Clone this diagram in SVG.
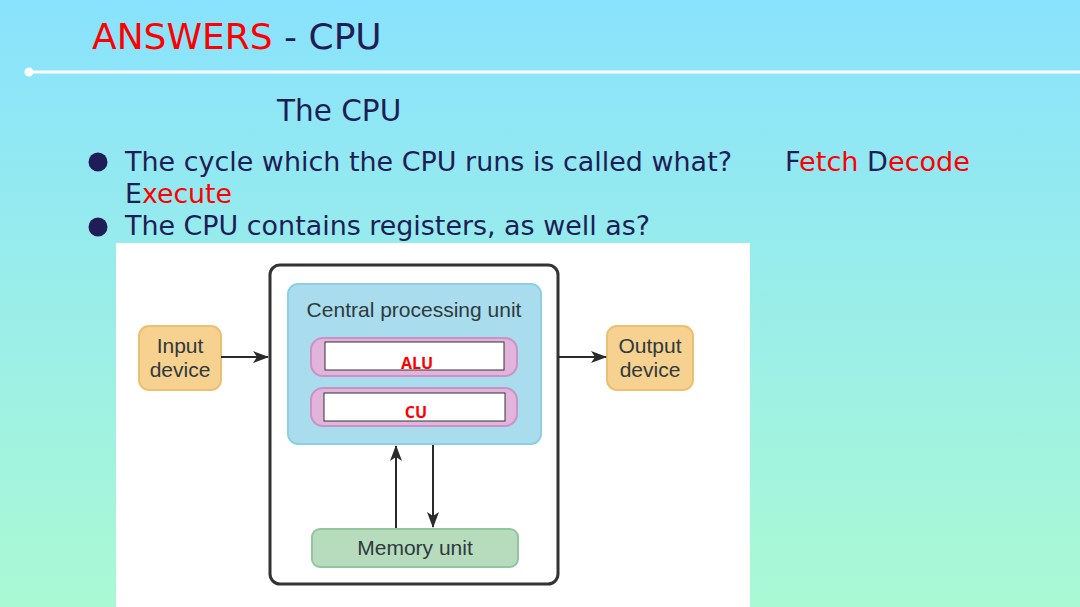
<svg xmlns="http://www.w3.org/2000/svg" width="1080" height="607" viewBox="0 0 1080 607">
<defs>
<linearGradient id="bg" x1="0" y1="0" x2="0" y2="1">
<stop offset="0" stop-color="#89e2fd"/>
<stop offset="1" stop-color="#aaf9d4"/>
</linearGradient>
<marker id="ah" viewBox="0 0 16 12" refX="15" refY="6" markerWidth="16" markerHeight="12" markerUnits="userSpaceOnUse" orient="auto">
<path d="M0,0 L16,6 L0,12 L4,6 Z" fill="#2a2a2a"/>
</marker>
</defs>
<style>
.slide{font-family:"DejaVu Sans",sans-serif;fill:#1f1d55}
.red{fill:#ff0000}
.lbl{font-family:"Liberation Sans",Arial,sans-serif;font-size:21px;fill:#2e3a3e;text-anchor:middle}
.ans{font-family:"Open Sans","Noto Sans",sans-serif;font-weight:bold;font-size:16px;fill:#ff0000;text-anchor:middle}
.conn{stroke:#2a2a2a;stroke-width:2;fill:none;marker-end:url(#ah)}
</style>
<rect width="1080" height="607" fill="url(#bg)"/>
<text class="slide" x="92" y="49" font-size="36"><tspan class="red">ANSWERS</tspan> - CPU</text>
<line x1="28" y1="72" x2="1080" y2="72" stroke="#fff" stroke-width="3"/>
<circle cx="29" cy="72" r="4.5" fill="#fff"/>
<text class="slide" x="277" y="121" font-size="29.5">The CPU</text>
<circle cx="98" cy="162" r="9.5" fill="#1f1d55"/>
<circle cx="98" cy="227" r="9.5" fill="#1f1d55"/>
<text class="slide" x="125" y="171" font-size="26" textLength="607" lengthAdjust="spacingAndGlyphs">The cycle which the CPU runs is called what?</text>
<text class="slide" x="785" y="171" font-size="26" textLength="185" lengthAdjust="spacingAndGlyphs">F<tspan class="red">etch</tspan> D<tspan class="red">ecode</tspan></text>
<text class="slide" x="125" y="203" font-size="26" textLength="107" lengthAdjust="spacingAndGlyphs">E<tspan class="red">xecute</tspan></text>
<text class="slide" x="125" y="235" font-size="26" textLength="525" lengthAdjust="spacingAndGlyphs">The CPU contains registers, as well as?</text>
<rect x="116" y="243" width="634" height="364" fill="#fff"/>
<g id="computer">
<rect x="270" y="265" width="288" height="319" rx="10" fill="#fff" stroke="#333" stroke-width="3"/>
</g>
<g id="cpu">
<rect x="288" y="284" width="253" height="160" rx="10" fill="#a9dcec" stroke="#8dd0e4" stroke-width="2"/>
<text class="lbl" x="414" y="317">Central processing unit</text>
</g>
<g id="alu">
<rect x="311" y="338" width="206" height="38" rx="12" fill="#e2b4dc" stroke="#c993c6" stroke-width="2"/>
<rect x="325" y="342" width="179" height="28" fill="#fff" stroke="#333" stroke-width="1"/>
<text class="ans" x="417" y="369">ALU</text>
</g>
<g id="cu">
<rect x="311" y="388" width="206" height="38" rx="12" fill="#e2b4dc" stroke="#c993c6" stroke-width="2"/>
<rect x="324" y="393" width="181" height="28" fill="#fff" stroke="#333" stroke-width="1"/>
<text class="ans" x="416" y="418">CU</text>
</g>
<g id="input">
<rect x="139" y="326" width="82" height="64" rx="10" fill="#f7d18f" stroke="#ecc073" stroke-width="2"/>
<text class="lbl" x="180" y="353">Input</text>
<text class="lbl" x="180" y="377">device</text>
</g>
<g id="output">
<rect x="607" y="326" width="86" height="64" rx="10" fill="#f7d18f" stroke="#ecc073" stroke-width="2"/>
<text class="lbl" x="650" y="353">Output</text>
<text class="lbl" x="650" y="377">device</text>
</g>
<g id="memory">
<rect x="312" y="529" width="206" height="38" rx="8" fill="#b6dcbd" stroke="#92c59c" stroke-width="2"/>
<text class="lbl" x="415" y="555">Memory unit</text>
</g>
<g id="connectors">
<line class="conn" x1="221" y1="357" x2="268" y2="357"/>
<line class="conn" x1="558" y1="357" x2="606" y2="357"/>
<line class="conn" x1="396" y1="528" x2="396" y2="446"/>
<line class="conn" x1="433" y1="445" x2="433" y2="527"/>
</g>
</svg>
